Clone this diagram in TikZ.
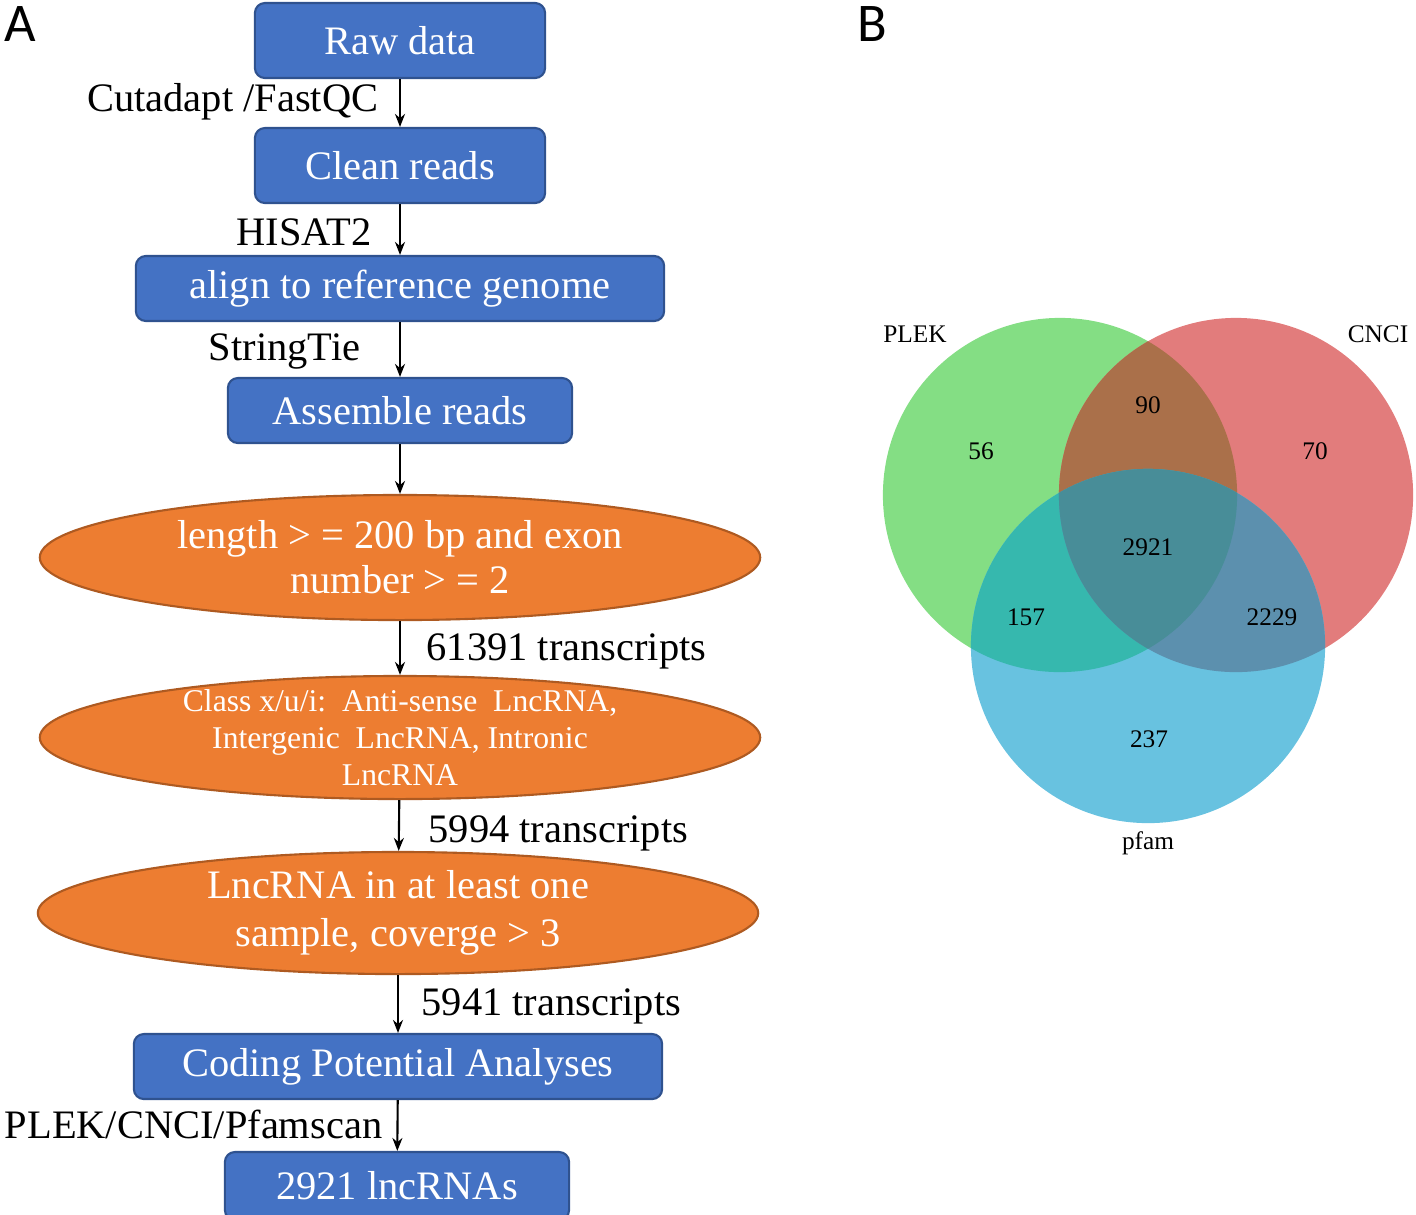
\documentclass[tikz,border=0pt]{standalone}
\usepackage{fontspec}
\setmainfont{Liberation Serif}
\newfontfamily\panelfont{Carlito}
\usetikzlibrary{shapes.geometric,arrows.meta,positioning}

\definecolor{boxblue}{HTML}{4472C4}
\definecolor{boxedge}{HTML}{2F528F}
\definecolor{ovalorange}{HTML}{ED7D31}
\definecolor{ovaledge}{HTML}{AE5A21}
\definecolor{plekfill}{HTML}{84DE84}
\definecolor{cncifill}{HTML}{E27C7C}
\definecolor{pfamfill}{HTML}{68C2E0}
\definecolor{plekcncifill}{HTML}{AA704A}
\definecolor{plekpfamfill}{HTML}{36B8AE}
\definecolor{cncipfamfill}{HTML}{5C90AE}
\definecolor{allfill}{HTML}{488D98}

\begin{document}
\begin{tikzpicture}[x=0.01cm, y=-0.01cm,
    >={Stealth[length=1.3mm, width=1mm]},
    stepbox/.style={draw=boxedge, fill=boxblue, rounded corners=1mm, text=white,
        font=\fontsize{11.5}{13}\selectfont, inner sep=0pt, line width=0.6pt},
    filterbox/.style={ellipse, draw=ovaledge, fill=ovalorange, text=white, align=center,
        inner sep=-5mm, minimum width=7.2cm, line width=0.6pt},
    toollabel/.style={font=\fontsize{11.5}{13}\selectfont, inner sep=0pt},
    vennlabel/.style={font=\fontsize{7.2}{8}\selectfont, inner sep=0pt},
    panellabel/.style={font=\panelfont\fontsize{15.5}{16}\selectfont, inner sep=0pt}]
    % Keep the page at the size of the figure
    \clip (0,0) rectangle (1416,1214);

    % Panel letters
    \node[panellabel] (panelA) at (20,24) {A};
    \node[panellabel] (panelB) at (872,24) {B};

    % Pipeline boxes
    \node[stepbox, minimum width=2.9cm, minimum height=0.75cm] (raw) at (400,40.5) {Raw data};
    \node[stepbox, minimum width=2.9cm, minimum height=0.75cm] (clean) at (400,165.5) {Clean reads};
    \node[stepbox, minimum width=5.28cm, minimum height=0.65cm] (align) at (400,288.5) {align to reference genome};
    \node[stepbox, minimum width=3.44cm, minimum height=0.65cm] (assemble) at (400,410.5) {Assemble reads};

    % Filtering steps
    \node[filterbox, minimum height=1.25cm, font=\fontsize{11.5}{12.8}\selectfont] (lenfilter) at (400,557.5)
        {length > = 200 bp and exon\\ number > = 2};
    \node[filterbox, minimum height=1.23cm, font=\fontsize{9}{10.5}\selectfont] (classfilter) at (400,737.5)
        {Class x/u/i:\ \ Anti-sense\ \ LncRNA,\\ Intergenic\ \ LncRNA, Intronic\\ LncRNA};
    \node[filterbox, minimum height=1.22cm, font=\fontsize{11.5}{13.7}\selectfont] (covfilter) at (398,913)
        {LncRNA in at least one\\ sample, coverge > 3};

    \node[stepbox, minimum width=5.28cm, minimum height=0.65cm] (coding) at (398,1066.5) {Coding Potential Analyses};
    \node[stepbox, minimum width=3.44cm, minimum height=0.68cm] (lnc) at (397,1186) {2921 lncRNAs};

    % Arrows between the steps
    \draw[->, line width=0.6pt] (raw) -- (clean);
    \draw[->, line width=0.6pt] (clean) -- (align);
    \draw[->, line width=0.6pt] (align) -- (assemble);
    \draw[->, line width=0.6pt] (assemble) -- (lenfilter);
    \draw[->, line width=0.6pt] (lenfilter) -- (classfilter);
    \draw[->, line width=0.6pt] (classfilter) -- (covfilter);
    \draw[->, line width=0.6pt] (covfilter) -- (coding);
    \draw[->, line width=0.6pt] (coding) -- (lnc);

    % Tools and counts beside the arrows
    \node[toollabel, anchor=east] (cutadapt) at (379,102) {Cutadapt /FastQC};
    \node[toollabel, anchor=east] (hisat) at (372,232) {HISAT2};
    \node[toollabel, anchor=east] (stringtie) at (361,351) {StringTie};
    \node[toollabel, anchor=west] (count1) at (426,651) {61391 transcripts};
    \node[toollabel, anchor=west] (count2) at (428,833) {5994 transcripts};
    \node[toollabel, anchor=west] (count3) at (421,1006) {5941 transcripts};
    \node[toollabel, anchor=east] (predictors) at (383,1124) {PLEK/CNCI/Pfamscan};

    % Venn diagram of the three predictors
    \fill[plekfill] (1060,495) circle[radius=1.77cm];
    \fill[cncifill] (1236,495) circle[radius=1.77cm];
    \fill[pfamfill] (1148,646) circle[radius=1.77cm];
    \begin{scope}
        \clip (1060,495) circle[radius=1.77cm];
        \fill[plekcncifill] (1236,495) circle[radius=1.77cm];
        \fill[plekpfamfill] (1148,646) circle[radius=1.77cm];
    \end{scope}
    \begin{scope}
        \clip (1236,495) circle[radius=1.77cm];
        \fill[cncipfamfill] (1148,646) circle[radius=1.77cm];
    \end{scope}
    \begin{scope}
        \clip (1060,495) circle[radius=1.77cm];
        \clip (1236,495) circle[radius=1.77cm];
        \fill[allfill] (1148,646) circle[radius=1.77cm];
    \end{scope}

    \node[vennlabel] (plek) at (915,334) {PLEK};
    \node[vennlabel] (cnci) at (1378,334) {CNCI};
    \node[vennlabel] (pfam) at (1148,843) {pfam};
    \node[vennlabel] (onlyplek) at (981,451) {56};
    \node[vennlabel] (plekcnci) at (1148,405) {90};
    \node[vennlabel] (onlycnci) at (1315,451) {70};
    \node[vennlabel] (allthree) at (1148,547) {2921};
    \node[vennlabel] (plekpfam) at (1026,617) {157};
    \node[vennlabel] (cncipfam) at (1272,617) {2229};
    \node[vennlabel] (onlypfam) at (1149,739) {237};
\end{tikzpicture}
\end{document}
